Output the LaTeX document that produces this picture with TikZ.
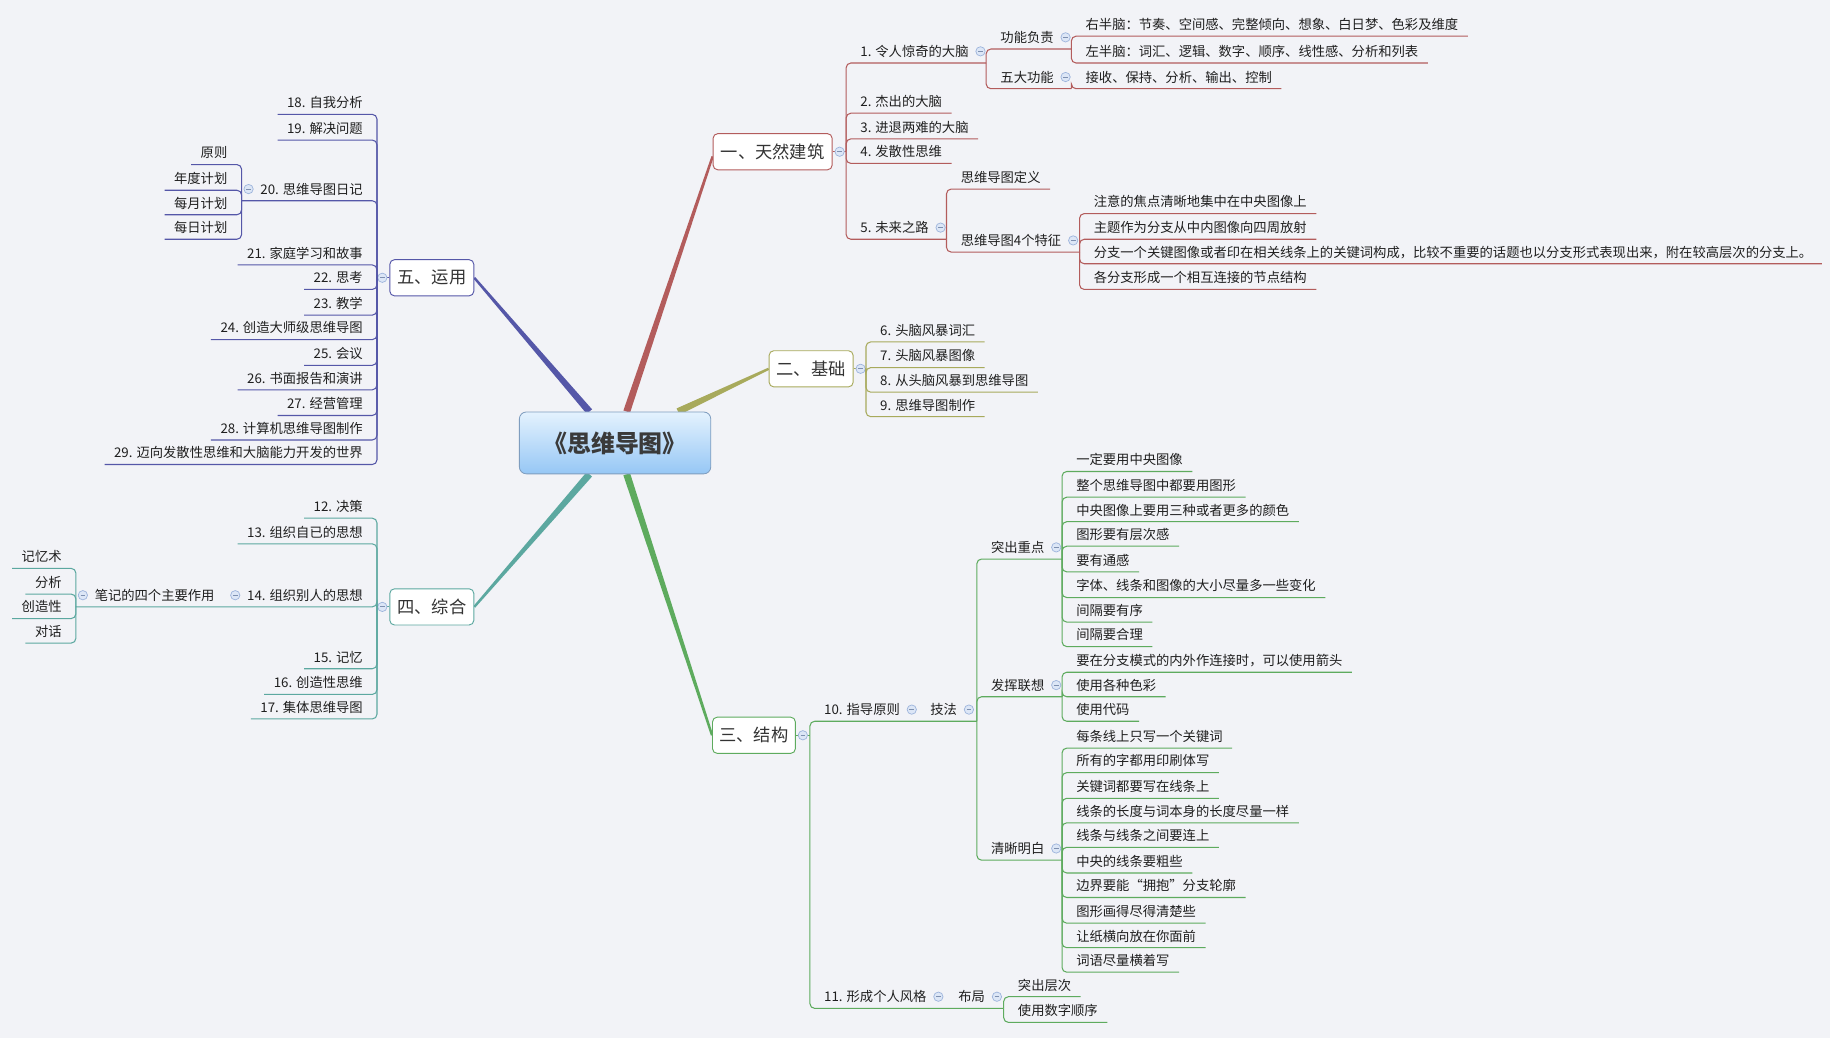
\documentclass[tikz,border=0pt]{standalone}
\usepackage{fontspec}
\setmainfont{Noto Sans CJK SC}
\usetikzlibrary{calc}
\pgfdeclarelayer{bglayer}
\pgfsetlayers{bglayer,main}
\definecolor{bg}{HTML}{F2F3F7}
\definecolor{txt}{HTML}{1F1F1F}
\definecolor{txtM}{HTML}{333333}
\definecolor{brA}{HTML}{B35C5C}
\definecolor{brB}{HTML}{A8AA5C}
\definecolor{brC}{HTML}{5EAB5E}
\definecolor{brD}{HTML}{5CA8A0}
\definecolor{brE}{HTML}{5557A8}
\definecolor{colB}{HTML}{9DB4DC}
\definecolor{colF}{HTML}{DCE6F6}
\definecolor{cTop}{HTML}{E4F2FE}
\definecolor{cBot}{HTML}{96C7F5}
\definecolor{cBd}{HTML}{7F9DBF}
\definecolor{cTx}{HTML}{3A3A3A}
\def\bc{brA}
\newcommand\mmRI[5]{%
  \node[leaf,anchor=south west] (#1) at ({#2+12},#4) {#5};
  \draw[conn] (#2,#3) |- ([xshift=8pt]#1.south east);}
\newcommand\mmRP[6]{%
  \node[leaf,anchor=south west] (#1) at ({#2+12},#4) {#5};
  \draw[conn] (#2,#3) |- (#6,#4);
  \node[colc] (#1c) at ([xshift=10pt,yshift=10pt]#1.south east) {};}
\newcommand\mmRT[4]{%
  \node[leaf,anchor=south west] (#1) at (#2,#3) {#4};
  \node[colc] (#1c) at ([xshift=10pt,yshift=10pt]#1.south east) {};}
\newcommand\mmLI[5]{%
  \node[leaf,anchor=south east] (#1) at ({#2-12},#4) {#5};
  \draw[conn] (#2,#3) |- ([xshift=-8pt]#1.south west);}
\newcommand\mmLP[6]{%
  \node[leaf,anchor=south east] (#1) at ({#2-12},#4) {#5};
  \draw[conn] (#2,#3) |- (#6,#4);
  \node[colc] (#1c) at ([xshift=-10pt,yshift=10pt]#1.south west) {};}
\newcommand\mmLT[4]{%
  \node[leaf,anchor=south east] (#1) at (#2,#3) {#4};
  \node[colc] (#1c) at ([xshift=-10pt,yshift=10pt]#1.south west) {};}
\newcommand\mmTaper[3]{%
  \fill[#3] ($(#1)!3pt!90:(#2)$) -- ($(#2)!1pt!-90:(#1)$) -- ($(#2)!1pt!90:(#1)$) -- ($(#1)!3pt!-90:(#2)$) -- cycle;}
\begin{document}
\begin{tikzpicture}[x=1pt,y=-1pt,
  leaf/.style={inner sep=0pt, text height=9pt, text depth=5.5pt, font=\fontsize{11.4}{13}\selectfont, text=txt},
  conn/.style={draw=\bc, line width=0.9pt, rounded corners=4pt},
  mainbox/.style={draw=\bc, fill=white, rounded corners=4pt, line width=0.8pt, minimum height=31pt, inner sep=0pt, font=\fontsize{14.8}{16}\selectfont, text=txtM},
  central/.style={rounded corners=6pt, minimum width=164pt, minimum height=53pt, inner sep=0pt, top color=cTop, bottom color=cBot, draw=cBd, line width=0.7pt, font=\fontsize{20.5}{24}\selectfont\bfseries, text=cTx},
  colc/.style={circle, draw=colB, fill=colF, minimum size=8pt, inner sep=0pt, line width=0.6pt,
    path picture={\draw[colB!80!black, line width=0.7pt] ([xshift=-2pt]path picture bounding box.center) -- ([xshift=2pt]path picture bounding box.center);}}
]
\begin{pgfonlayer}{bglayer}
\fill[bg] (0,0) rectangle (1568,889);
\end{pgfonlayer}
\useasboundingbox (0,0) rectangle (1568,889);

\node[central] (M) at (527,379.5) {《思维导图》};

% ---------- Branch 1 ----------
\def\bc{brA}
\node[mainbox, minimum width=102pt] (A) at (662,130) {一、天然建筑};
\draw[conn] (A.east) -- (725,130);
\node[colc] (Ac) at ([xshift=6pt]A.east) {};
\mmRP{a1}{725}{130}{54}{1. 令人惊奇的大脑}{845}
\mmRI{a2}{725}{130}{97}{2. 杰出的大脑}
\mmRI{a3}{725}{130}{119}{3. 进退两难的大脑}
\mmRI{a4}{725}{130}{140}{4. 发散性思维}
\mmRP{a5}{725}{130}{205}{5. 未来之路}{811}
\mmRP{a11}{845}{54}{42}{功能负责}{918}
\mmRP{a12}{845}{54}{76}{五大功能}{918}
\mmRI{a111}{918}{42}{31}{右半脑：节奏、空间感、完整倾向、想象、白日梦、色彩及维度}
\mmRI{a112}{918}{42}{54}{左半脑：词汇、逻辑、数字、顺序、线性感、分析和列表}
\mmRI{a121}{918}{76}{76}{接收、保持、分析、输出、控制}
\mmRI{a51}{811}{205}{162}{思维导图定义}
\mmRP{a52}{811}{205}{216}{思维导图4个特征}{925}
\mmRI{a521}{925}{216}{183}{注意的焦点清晰地集中在中央图像上}
\mmRI{a522}{925}{216}{205}{主题作为分支从中内图像向四周放射}
\mmRI{a523}{925}{216}{226}{分支一个关键图像或者印在相关线条上的关键词构成，比较不重要的话题也以分支形式表现出来，附在较高层次的分支上。}
\mmRI{a524}{925}{216}{248}{各分支形成一个相互连接的节点结构}

% ---------- Branch 2 ----------
\def\bc{brB}
\node[mainbox, minimum width=72pt] (B) at (695,316) {二、基础};
\draw[conn] (B.east) -- (742,316);
\node[colc] (Bc) at ([xshift=6pt]B.east) {};
\mmRI{b6}{742}{316}{293}{6. 头脑风暴词汇}
\mmRI{b7}{742}{316}{315}{7. 头脑风暴图像}
\mmRI{b8}{742}{316}{336}{8. 从头脑风暴到思维导图}
\mmRI{b9}{742}{316}{357}{9. 思维导图制作}

% ---------- Branch 3 ----------
\def\bc{brC}
\node[mainbox, minimum width=71pt] (C) at (646,630) {三、结构};
\draw[conn] (C.east) -- (694,630);
\node[colc] (Cc) at ([xshift=6pt]C.east) {};
\mmRP{c10}{694}{630}{618}{10. 指导原则}{837}
\mmRT{c10t}{797}{618}{技法}
\mmRP{c11}{694}{630}{864}{11. 形成个人风格}{860}
\mmRT{c11t}{821}{864}{布局}
\mmRP{c1}{837}{618}{479}{突出重点}{910}
\mmRP{c2}{837}{618}{597}{发挥联想}{910}
\mmRP{c3}{837}{618}{737}{清晰明白}{910}
\mmRI{c101}{910}{479}{404}{一定要用中央图像}
\mmRI{c102}{910}{479}{426}{整个思维导图中都要用图形}
\mmRI{c103}{910}{479}{447}{中央图像上要用三种或者更多的颜色}
\mmRI{c104}{910}{479}{468}{图形要有层次感}
\mmRI{c105}{910}{479}{490}{要有通感}
\mmRI{c106}{910}{479}{512}{字体、线条和图像的大小尽量多一些变化}
\mmRI{c107}{910}{479}{533}{间隔要有序}
\mmRI{c108}{910}{479}{554}{间隔要合理}
\mmRI{c201}{910}{597}{576}{要在分支模式的内外作连接时，可以使用箭头}
\mmRI{c202}{910}{597}{597}{使用各种色彩}
\mmRI{c203}{910}{597}{618}{使用代码}
\mmRI{c301}{910}{737}{641}{每条线上只写一个关键词}
\mmRI{c302}{910}{737}{662}{所有的字都用印刷体写}
\mmRI{c303}{910}{737}{684}{关键词都要写在线条上}
\mmRI{c304}{910}{737}{705}{线条的长度与词本身的长度尽量一样}
\mmRI{c305}{910}{737}{726}{线条与线条之间要连上}
\mmRI{c306}{910}{737}{748}{中央的线条要粗些}
\mmRI{c307}{910}{737}{769}{边界要能“拥抱”分支轮廓}
\mmRI{c308}{910}{737}{791}{图形画得尽得清楚些}
\mmRI{c309}{910}{737}{812}{让纸横向放在你面前}
\mmRI{c310}{910}{737}{833}{词语尽量横着写}
\mmRI{c111}{860}{864}{854}{突出层次}
\mmRI{c112}{860}{864}{876}{使用数字顺序}

% ---------- Branch 4 ----------
\def\bc{brD}
\node[mainbox, minimum width=72pt] (D) at (370,520) {四、综合};
\draw[conn] (D.west) -- (323,520);
\node[colc] (Dc) at ([xshift=-6pt]D.west) {};
\mmLI{d12}{323}{520}{444}{12. 决策}
\mmLI{d13}{323}{520}{466}{13. 组织自已的思想}
\mmLP{d14}{323}{520}{520}{14. 组织别人的思想}{65}
\mmLT{d14t}{184}{520}{笔记的四个主要作用}
\mmLI{d15}{323}{520}{573}{15. 记忆}
\mmLI{d16}{323}{520}{595}{16. 创造性思维}
\mmLI{d17}{323}{520}{616}{17. 集体思维导图}
\mmLI{d141}{65}{520}{487}{记忆术}
\mmLI{d142}{65}{520}{509}{分析}
\mmLI{d143}{65}{520}{530}{创造性}
\mmLI{d144}{65}{520}{551}{对话}

% ---------- Branch 5 ----------
\def\bc{brE}
\node[mainbox, minimum width=72pt] (E) at (370,238) {五、运用};
\draw[conn] (E.west) -- (323,238);
\node[colc] (Ec) at ([xshift=-6pt]E.west) {};
\mmLI{e18}{323}{238}{98}{18. 自我分析}
\mmLI{e19}{323}{238}{120}{19. 解决问题}
\mmLP{e20}{323}{238}{172}{20. 思维导图日记}{207}
\mmLI{e21}{323}{238}{227}{21. 家庭学习和故事}
\mmLI{e22}{323}{238}{248}{22. 思考}
\mmLI{e23}{323}{238}{270}{23. 教学}
\mmLI{e24}{323}{238}{291}{24. 创造大师级思维导图}
\mmLI{e25}{323}{238}{313}{25. 会议}
\mmLI{e26}{323}{238}{334}{26. 书面报告和演讲}
\mmLI{e27}{323}{238}{356}{27. 经营管理}
\mmLI{e28}{323}{238}{377}{28. 计算机思维导图制作}
\mmLI{e29}{323}{238}{398}{29. 迈向发散性思维和大脑能力开发的世界}
\mmLI{e201}{207}{172}{141}{原则}
\mmLI{e202}{207}{172}{163}{年度计划}
\mmLI{e203}{207}{172}{184}{每月计划}
\mmLI{e204}{207}{172}{205}{每日计划}

% ---------- main tapered connectors ----------
\coordinate (mA) at ([xshift=10pt]M.north);
\coordinate (mE) at ([xshift=-22pt]M.north);
\coordinate (mB) at ([xshift=54pt]M.north);
\coordinate (mD) at ([xshift=-22pt]M.south);
\coordinate (mC) at ([xshift=10pt]M.south);
\coordinate (eA) at ([yshift=-4pt]A.west);
\coordinate (eB) at (B.west);
\coordinate (eC) at (C.west);
\coordinate (eD) at (D.east);
\coordinate (eE) at (E.east);
\begin{pgfonlayer}{bglayer}
\mmTaper{mA}{eA}{brA}
\mmTaper{mB}{eB}{brB}
\mmTaper{mC}{eC}{brC}
\mmTaper{mD}{eD}{brD}
\mmTaper{mE}{eE}{brE}
\end{pgfonlayer}
\end{tikzpicture}
\end{document}
